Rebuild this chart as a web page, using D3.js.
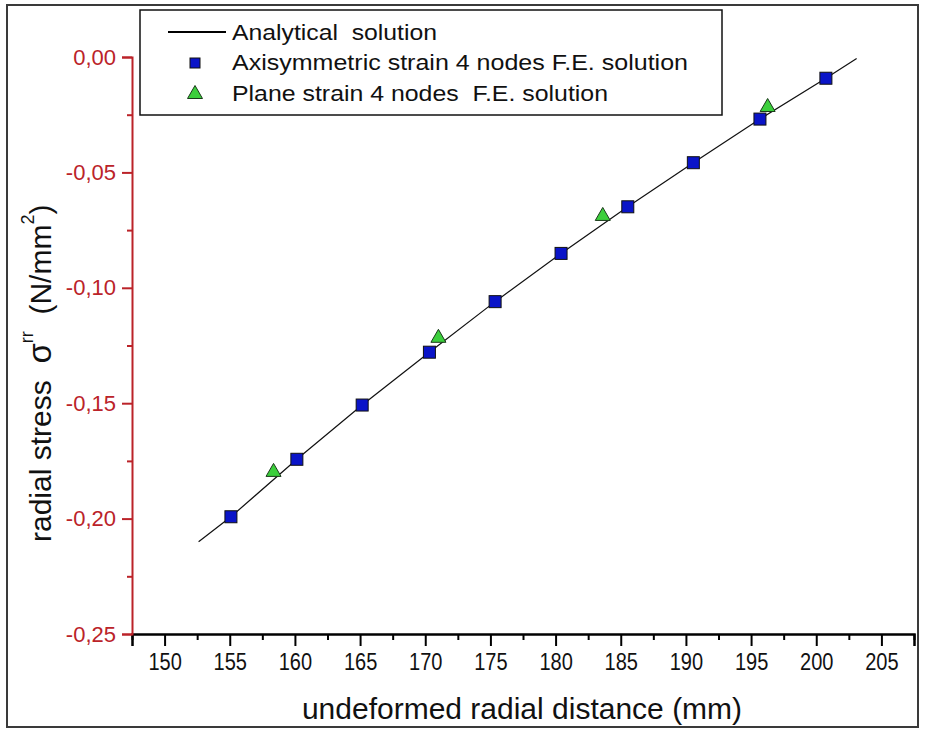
<!DOCTYPE html>
<html>
<head>
<meta charset="utf-8">
<script src="https://cdn.jsdelivr.net/npm/d3@7"></script>
<style>
  body { margin: 0; background: #fff; }
  svg { display: block; font-family: "Liberation Sans", Arial, sans-serif; }
</style>
</head>
<body>
<div id="chart"></div>
<script>
// data
var axiX = [155.09, 160.15, 165.16, 170.32, 175.36, 180.42, 185.54, 190.57, 195.68, 200.74];
var axiY = [-0.1992, -0.1743, -0.1508, -0.1279, -0.1060, -0.0851, -0.0649, -0.0458, -0.0269, -0.0092];
var planeX = [158.36, 171.01, 183.62, 196.27];
var planeY = [-0.1789, -0.1208, -0.0680, -0.0208];
var analyticX = [152.61, 155.09, 160.15, 165.16, 170.32, 175.36, 180.42, 185.54, 190.57, 195.68, 200.74, 203.10];
var analyticY = [-0.2100, -0.1992, -0.1743, -0.1508, -0.1279, -0.1060, -0.0851, -0.0649, -0.0458, -0.0269, -0.0092, -0.0006];
var xTicks = [150, 155, 160, 165, 170, 175, 180, 185, 190, 195, 200, 205];
var xMinor = [147.5, 152.5, 157.5, 162.5, 167.5, 172.5, 177.5, 182.5, 187.5, 192.5, 197.5, 202.5, 207.5];
var yTicks = [0, -0.05, -0.10, -0.15, -0.20, -0.25];
var yMinor = [-0.025, -0.075, -0.125, -0.175, -0.225];
var legendLabels = ["Analytical  solution", "Axisymmetric strain 4 nodes F.E. solution", "Plane strain 4 nodes  F.E. solution"];

var svgWidth = 928;
var svgHeight = 737;
var red = "#bb2329";

var svg = d3.select("#chart").append("svg").attr("width", svgWidth).attr("height", svgHeight);

// outer frame
svg.append("rect")
    .attr("x", 7).attr("y", 5)
    .attr("width", 911).attr("height", 722)
    .attr("fill", "none")
    .attr("stroke", "#3a3a3a")
    .attr("stroke-width", 2);

var xScale = d3.scaleLinear().domain([147.5, 207.5]).range([132, 914]);
var yScale = d3.scaleLinear().domain([-0.25, 0]).range([634, 57]);

var fmt = function(d) { return d3.format(".2f")(d).replace("−", "-").replace(".", ","); };

// x axis
var xAxis = svg.append("g")
    .attr("transform", "translate(0,634)")
    .call(d3.axisBottom(xScale).tickValues(xTicks).tickSize(12).tickPadding(8).tickFormat(d3.format("d")));
xAxis.select(".domain").attr("stroke", "#000").attr("stroke-width", 2.5);
xAxis.selectAll(".tick line").attr("stroke", "#000").attr("stroke-width", 2);
xAxis.selectAll(".tick text")
    .attr("font-size", 23)
    .attr("font-family", "Liberation Sans, Arial, sans-serif")
    .attr("fill", "#111")
    .attr("transform", "scale(0.87,1)");

var xMinorAxis = svg.append("g")
    .attr("transform", "translate(0,634)")
    .call(d3.axisBottom(xScale).tickValues(xMinor).tickSize(6).tickFormat(""));
xMinorAxis.select(".domain").remove();
xMinorAxis.selectAll(".tick line").attr("stroke", "#000").attr("stroke-width", 2);

// y axis (red)
var yAxis = svg.append("g")
    .attr("transform", "translate(132,0)")
    .call(d3.axisLeft(yScale).tickValues(yTicks).tickSize(10).tickPadding(6).tickFormat(fmt));
yAxis.select(".domain").attr("stroke", red).attr("stroke-width", 2);
yAxis.selectAll(".tick line").attr("stroke", red).attr("stroke-width", 2);
yAxis.selectAll(".tick text")
    .attr("font-size", 22)
    .attr("font-family", "Liberation Sans, Arial, sans-serif")
    .attr("fill", red);

var yMinorAxis = svg.append("g")
    .attr("transform", "translate(132,0)")
    .call(d3.axisLeft(yScale).tickValues(yMinor).tickSize(5).tickFormat(""));
yMinorAxis.select(".domain").remove();
yMinorAxis.selectAll(".tick line").attr("stroke", red).attr("stroke-width", 2);

// axis titles
svg.append("text")
    .attr("x", 522)
    .attr("y", 719)
    .attr("text-anchor", "middle")
    .attr("font-size", 30)
    .attr("fill", "#111")
    .text("undeformed radial distance (mm)");

var yTitle = svg.append("text")
    .attr("transform", "translate(51,542) rotate(-90)")
    .attr("font-size", 30)
    .attr("fill", "#111")
    .style("white-space", "pre");
yTitle.append("tspan").text("radial stress  ");
yTitle.append("tspan").attr("font-size", 33).text("σ");
yTitle.append("tspan").attr("font-size", 18).attr("dy", -18).text("rr");
yTitle.append("tspan").attr("dy", 18).text("  (N/mm");
yTitle.append("tspan").attr("font-size", 18).attr("dy", -17).text("2");
yTitle.append("tspan").attr("dy", 17).text(")");

// analytical solution line
var analytic = analyticX.map(function(x, i) { return [x, analyticY[i]]; });
svg.append("path")
    .datum(analytic)
    .attr("fill", "none")
    .attr("stroke", "#111")
    .attr("stroke-width", 1.2)
    .attr("d", d3.line().x(d => xScale(d[0])).y(d => yScale(d[1])));

// axisymmetric squares
var sq = 12;
svg.append("g").selectAll("rect")
    .data(axiX)
    .enter()
    .append("rect")
    .attr("x", d => xScale(d) - sq / 2)
    .attr("y", (d, i) => yScale(axiY[i]) - sq / 2)
    .attr("width", sq)
    .attr("height", sq)
    .attr("fill", "#0a14c8")
    .attr("stroke", "#111")
    .attr("stroke-width", 1);

// plane strain triangles
function tri(cx, cy, w, h) {
    return "M" + cx + "," + (cy - h / 2) + "L" + (cx + w / 2) + "," + (cy + h / 2) + "L" + (cx - w / 2) + "," + (cy + h / 2) + "Z";
}
svg.append("g").selectAll("path")
    .data(planeX)
    .enter()
    .append("path")
    .attr("d", (d, i) => tri(xScale(d), yScale(planeY[i]), 15, 13))
    .attr("fill", "#3ccf3c")
    .attr("stroke", "#1a3a1a")
    .attr("stroke-width", 1);

// legend
var legend = svg.append("g");
legend.append("rect")
    .attr("x", 140).attr("y", 10)
    .attr("width", 582).attr("height", 105)
    .attr("fill", "#fff")
    .attr("stroke", "#111")
    .attr("stroke-width", 1.5);
legend.append("line")
    .attr("x1", 168).attr("x2", 226)
    .attr("y1", 32).attr("y2", 32)
    .attr("stroke", "#000")
    .attr("stroke-width", 2);
legend.append("rect")
    .attr("x", 190).attr("y", 58)
    .attr("width", 10).attr("height", 10)
    .attr("fill", "#0a14c8")
    .attr("stroke", "#111")
    .attr("stroke-width", 1);
legend.append("path")
    .attr("d", tri(195, 92, 15, 13))
    .attr("fill", "#3ccf3c")
    .attr("stroke", "#1a3a1a")
    .attr("stroke-width", 1);
legend.selectAll("text")
    .data(legendLabels)
    .enter()
    .append("text")
    .attr("x", 232)
    .attr("y", (d, i) => [40, 70, 101][i])
    .attr("font-size", 22)
    .attr("fill", "#111")
    .attr("textLength", (d, i) => [205, 456, 376][i])
    .attr("lengthAdjust", "spacingAndGlyphs")
    .style("white-space", "pre")
    .text(d => d);
</script>
</body>
</html>
